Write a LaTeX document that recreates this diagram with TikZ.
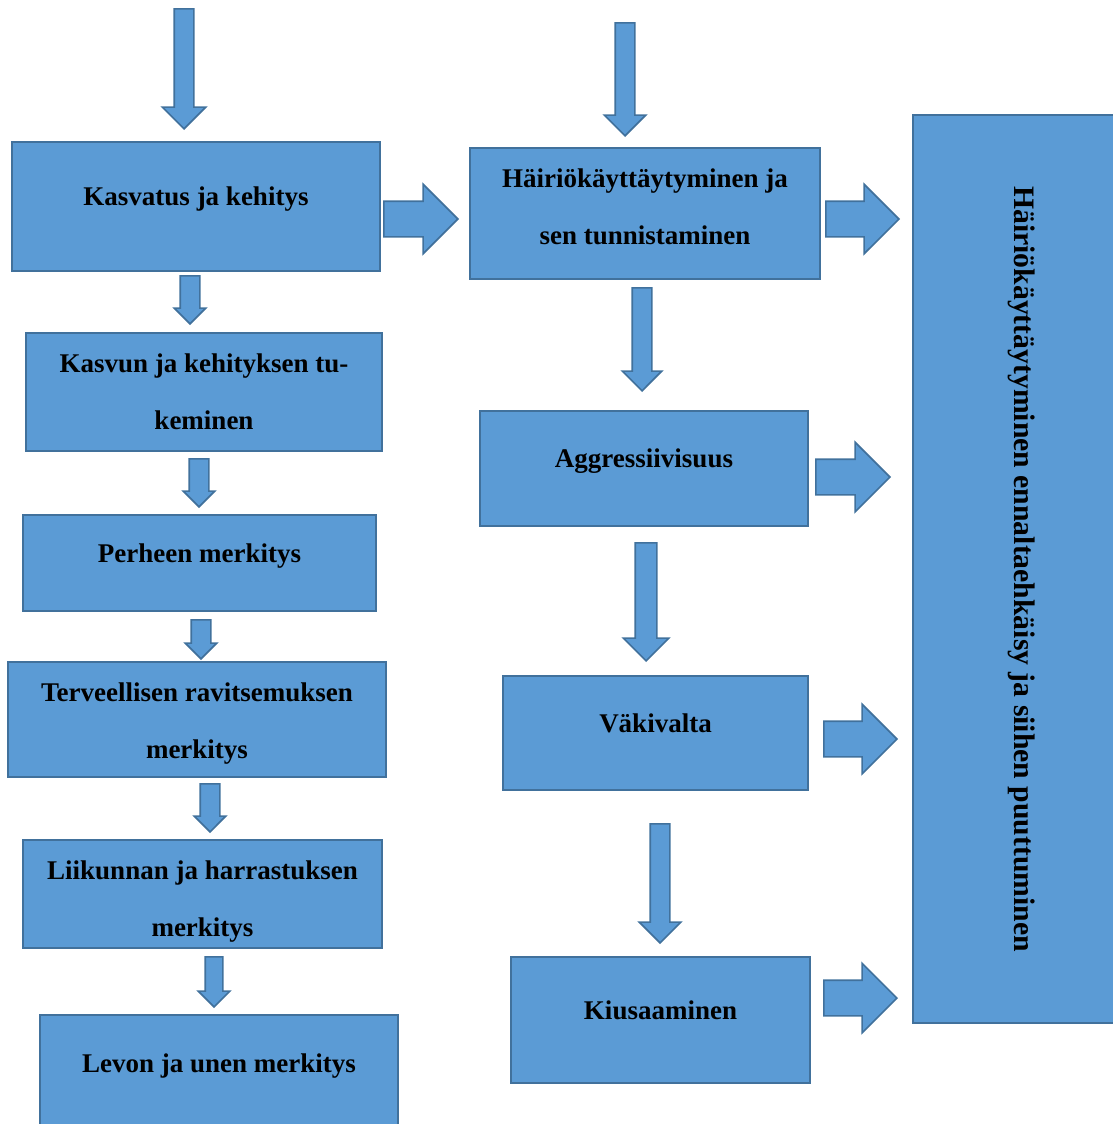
\documentclass[tikz,border=0pt]{standalone}
\usepackage{fontspec}
\setmainfont{Liberation Serif}
\usepackage{tikz}
\usetikzlibrary{shapes.arrows}
\definecolor{boxblue}{HTML}{5B9BD5}
\definecolor{edgeblue}{HTML}{41719C}

\begin{document}
\begin{tikzpicture}[x=1pt,y=-1pt,oneline/.style={text depth=20pt}]
        \useasboundingbox (0,0) rectangle (1113,1124);
        \begin{scope}[every node/.style={rectangle,fill=boxblue,draw=edgeblue,line width=1.6pt,inner sep=0pt,align=center,font=\fontsize{27}{57}\selectfont\bfseries}]
            \node[oneline,minimum width=368,minimum height=129] (1) at (196,206.5) {Kasvatus ja kehitys};
            \node[minimum width=356,minimum height=118] (2) at (204,392) {Kasvun ja kehityksen tu-\\keminen};
            \node[oneline,minimum width=353,minimum height=96] (3) at (199.5,563) {Perheen merkitys};
            \node[text height=83.4pt,minimum width=378,minimum height=115] (4) at (197,719.5) {Terveellisen ravitsemuksen\\merkitys};
            \node[text height=91.4pt,minimum width=359,minimum height=108] (5) at (202.5,894) {Liikunnan ja harrastuksen\\merkitys};
            \node[oneline,minimum width=358,minimum height=116] (6) at (219,1073) {Levon ja unen merkitys};

            \node[text depth=14pt,minimum width=350,minimum height=131] (7) at (645,213.5) {Häiriökäyttäytyminen ja\\sen tunnistaminen};
            \node[oneline,minimum width=328,minimum height=115] (8) at (644,468.5) {Aggressiivisuus};
            \node[oneline,minimum width=305,minimum height=114] (9) at (655.5,733) {Väkivalta};
            \node[oneline,minimum width=299,minimum height=126] (10) at (660.5,1020) {Kiusaaminen};

            \node[rotate=-90,font=\fontsize{29.7}{36}\selectfont\bfseries,minimum width=908,minimum height=218] (11) at (1022,569) {Häiriökäyttäytyminen ennaltaehkäisy ja siihen puuttuminen};
        \end{scope}
        \begin{scope}[every node/.style={single arrow,fill=boxblue,draw=edgeblue,line width=1.6pt,inner sep=0pt,minimum width=0pt,single arrow tip angle=90,single arrow head indent=0pt,anchor=tip}]
            % down
            \node[rotate=-90,inner ysep=9,single arrow head extend=12,minimum height=120] (21) at (184,130) {};
            \node[rotate=-90,inner ysep=9,single arrow head extend=11,minimum height=113] (22) at (625,137) {};
            \node[rotate=-90,inner ysep=9,single arrow head extend=6,minimum height=48] (23) at (190,325) {};
            \node[rotate=-90,inner ysep=9,single arrow head extend=6,minimum height=48] (24) at (199,508) {};
            \node[rotate=-90,inner ysep=9,single arrow head extend=6,minimum height=39] (25) at (201,660) {};
            \node[rotate=-90,inner ysep=9,single arrow head extend=6,minimum height=48] (26) at (210,833) {};
            \node[rotate=-90,inner ysep=8,single arrow head extend=7,minimum height=50] (27) at (214,1008) {};
            \node[rotate=-90,inner ysep=9,single arrow head extend=10,minimum height=103] (28) at (642,392) {};
            \node[rotate=-90,inner ysep=10,single arrow head extend=12,minimum height=118] (29) at (646,662) {};
            \node[rotate=-90,inner ysep=9,single arrow head extend=11,minimum height=119] (30) at (660,944) {};

            % right
            \node[inner ysep=17,single arrow head extend=17,minimum height=74] (31) at (459,219) {};
            \node[inner ysep=17,single arrow head extend=17,minimum height=73] (32) at (900,219) {};
            \node[inner ysep=17,single arrow head extend=17,minimum height=74] (33) at (891,477) {};
            \node[inner ysep=17,single arrow head extend=17,minimum height=73] (34) at (898,739) {};
            \node[inner ysep=17,single arrow head extend=17,minimum height=73] (35) at (898,998) {};
        \end{scope}
    \end{tikzpicture}
\end{document}
